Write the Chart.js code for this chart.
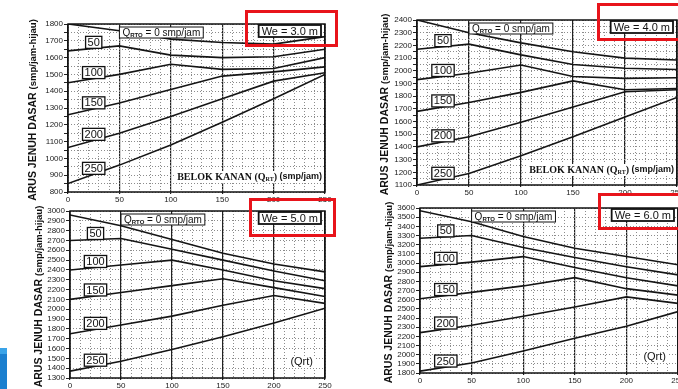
<!DOCTYPE html>
<html>
<head>
<meta charset="utf-8">
<script src="https://cdn.jsdelivr.net/npm/chart.js@4.4.1/dist/chart.umd.min.js"></script>
<style>
html, body { margin: 0; padding: 0; background: #fff; width: 678px; height: 389px; overflow: hidden; position: relative; }
.red { position: absolute; border: 3px solid #e8141b; box-sizing: border-box; }
#blue { position: absolute; left: 0; top: 348px; width: 7px; height: 41px; background: #1b7fcf; border-top: 6px solid #3aa3e8; box-sizing: border-box; }
</style>
</head>
<body>
<div id="blue"></div>
<script>
// Q_RT (belok kanan) pada sumbu x
const qrt = [0, 50, 100, 150, 200, 250];
// kurva: Q_RTO = 0, 50, 100, 150, 200, 250
const curveNames = ['0', '50', '100', '150', '200', '250'];
const weLabels = ['We = 3.0 m', 'We = 4.0 m', 'We = 5.0 m', 'We = 6.0 m'];
const yMin = [800, 1100, 1300, 1800];
const yMax = [1800, 2400, 3000, 3600];
const yStep = [50, 50, 100, 100];

const we30 = [
    [1800, 1760, 1710, 1690, 1680, 1725],
    [1640, 1670, 1615, 1600, 1605, 1650],
    [1450, 1500, 1560, 1530, 1535, 1600],
    [1260, 1330, 1410, 1490, 1515, 1545],
    [1065, 1150, 1250, 1355, 1460, 1510],
    [850, 960, 1080, 1215, 1355, 1500]
];
const we40 = [
    [2400, 2300, 2220, 2150, 2100, 2085],
    [2170, 2210, 2125, 2050, 2020, 2010],
    [1930, 1980, 2045, 1955, 1940, 1945],
    [1680, 1750, 1830, 1920, 1850, 1860],
    [1400, 1480, 1595, 1715, 1835, 1850],
    [1100, 1190, 1330, 1480, 1635, 1790]
];
const we50 = [
    [2960, 2850, 2710, 2570, 2460, 2380],
    [2700, 2720, 2610, 2500, 2390, 2290],
    [2400, 2450, 2500, 2400, 2290, 2210],
    [2100, 2170, 2240, 2310, 2220, 2130],
    [1750, 1840, 1930, 2040, 2140, 2060],
    [1370, 1470, 1590, 1720, 1860, 2010]
];
const we60 = [
    [3570, 3450, 3290, 3160, 3070, 2980],
    [3270, 3300, 3170, 3060, 2960, 2870],
    [2960, 3010, 3070, 2950, 2840, 2750],
    [2610, 2680, 2750, 2840, 2720, 2650],
    [2240, 2320, 2420, 2520, 2630, 2560],
    [1820, 1910, 2040, 2180, 2310, 2470]
];
const allSeries = [we30, we40, we50, we60];

// letak area plot tiap panel (px)
const areas = [
    { l: 68, r: 325, t: 24, b: 192, titleDx: 35 },
    { l: 417, r: 677, t: 20, b: 185, titleDx: 32 },
    { l: 70, r: 325, t: 211, b: 378, titleDx: 31 },
    { l: 420, r: 678, t: 208, b: 373, titleDx: 31 }
];
const redBoxes = [
    [245, 10, 93, 37], [597, 3, 85, 38], [249, 198, 87, 39], [598, 193, 84, 37]
];

const SANS = '"Liberation Sans", Arial, sans-serif';
const SERIF = '"Liberation Serif", "Times New Roman", serif';
const Y_W = 50, X_H = 16, PAD_T = 6, PAD_R = 12;
const LABEL_X = 25;

function drawRuns(ctx, runs, x, y, align) {
    let total = 0;
    runs.forEach(r => { ctx.font = r.f; r.w = ctx.measureText(r.t).width; total += r.w; });
    let cx = align === 'right' ? x - total : align === 'center' ? x - total / 2 : x;
    ctx.textAlign = 'left';
    runs.forEach(r => { ctx.font = r.f; ctx.fillText(r.t, cx, y + (r.dy || 0)); cx += r.w; });
    return total;
}

function runsWidth(ctx, runs) {
    return runs.reduce((s, r) => { ctx.font = r.f; return s + ctx.measureText(r.t).width; }, 0);
}

function makeDecor(i) {
    return {
        id: 'decor' + i,
        afterDraw(chart) {
            const { ctx, chartArea: a, scales: { x, y } } = chart;
            const series = allSeries[i];
            ctx.save();
            ctx.textBaseline = 'middle';

            // bingkai
            ctx.strokeStyle = '#111';
            ctx.lineWidth = 1.5;
            ctx.strokeRect(a.left, a.top, a.right - a.left, a.bottom - a.top);

            // label kurva dalam kotak
            ctx.font = '11px ' + SANS;
            series.forEach((s, k) => {
                if (k === 0) return;
                const v = s[0] + (s[1] - s[0]) * (LABEL_X - qrt[0]) / (qrt[1] - qrt[0]);
                const cx = x.getPixelForValue(LABEL_X), cy = y.getPixelForValue(v) - 6;
                const w = ctx.measureText(curveNames[k]).width + 4;
                ctx.fillStyle = '#fff';
                ctx.fillRect(cx - w / 2, cy - 6, w, 12);
                ctx.lineWidth = 1.3;
                ctx.strokeStyle = '#111';
                ctx.strokeRect(cx - w / 2, cy - 6, w, 12);
                ctx.fillStyle = '#111';
                ctx.textAlign = 'center';
                ctx.fillText(curveNames[k], cx, cy + 0.5);
            });

            // kotak Q_RTO = 0
            const qRuns = [
                { t: 'Q', f: '10px ' + SANS },
                { t: 'RTO', f: 'bold 6px ' + SANS, dy: 2 },
                { t: ' = 0 smp/jam', f: '10px ' + SANS }
            ];
            const qx = x.getPixelForValue(50), qy = a.top + 3;
            const qw = runsWidth(ctx, qRuns) + 6;
            ctx.fillStyle = '#fff';
            ctx.fillRect(qx, qy, qw, 11);
            ctx.lineWidth = 1;
            ctx.strokeRect(qx, qy, qw, 11);
            ctx.fillStyle = '#111';
            drawRuns(ctx, qRuns, qx + 3, qy + 6, 'left');

            // kotak We
            ctx.font = '11px ' + SANS;
            const ww = ctx.measureText(weLabels[i]).width + 6;
            const wx = a.right - 4 - ww, wy = a.top + 1;
            ctx.fillStyle = '#fff';
            ctx.fillRect(wx, wy, ww, 12);
            ctx.lineWidth = 1.8;
            ctx.strokeRect(wx, wy, ww, 12);
            ctx.fillStyle = '#111';
            ctx.textAlign = 'left';
            ctx.fillText(weLabels[i], wx + 3, wy + 6.5);

            // teks sumbu x di dalam plot
            let bRuns, bx, by;
            if (i < 2) {
                bRuns = [
                    { t: 'BELOK KANAN (Q', f: 'bold 10px ' + SERIF },
                    { t: 'RT', f: 'bold 6px ' + SERIF, dy: 2 },
                    { t: ')', f: 'bold 10px ' + SERIF },
                    { t: ' (smp/jam)', f: 'bold 9px ' + SANS }
                ];
                bx = a.right - 3; by = a.bottom - 15;
            } else {
                bRuns = [{ t: '(Qrt)', f: '11px ' + SANS }];
                bx = a.right - 12; by = a.bottom - 16;
            }
            const bw = runsWidth(ctx, bRuns);
            ctx.fillStyle = '#fff';
            ctx.fillRect(bx - bw - 2, by - 6, bw + 4, 12);
            ctx.fillStyle = '#111';
            drawRuns(ctx, bRuns, bx, by, 'right');

            // judul sumbu y
            ctx.save();
            ctx.translate(a.left - areas[i].titleDx, (a.top + a.bottom) / 2 + 2);
            ctx.rotate(-Math.PI / 2);
            ctx.fillStyle = '#111';
            drawRuns(ctx, [
                { t: 'ARUS JENUH DASAR ', f: 'bold 10.5px ' + SANS },
                { t: '(smp/jam-hijau)', f: 'bold 9.5px ' + SANS }
            ], 0, 0, 'center');
            ctx.restore();

            ctx.restore();
        }
    };
}

areas.forEach((a, i) => {
    const cv = document.createElement('canvas');
    const left = a.l - Y_W, top = a.t - PAD_T;
    cv.width = Math.round(a.r + PAD_R - left);
    cv.height = Math.round(a.b + X_H - top);
    cv.style.cssText = `position:absolute;left:${left}px;top:${top}px;`;
    document.body.appendChild(cv);

    new Chart(cv, {
        type: 'line',
        data: {
            datasets: allSeries[i].map((s, k) => ({
                label: 'Q_RTO ' + curveNames[k],
                data: qrt.map((q, j) => ({ x: q, y: s[j] })),
                borderColor: '#151515',
                borderWidth: 1.6,
                pointRadius: 0,
                tension: 0,
                fill: false
            }))
        },
        options: {
            responsive: false,
            animation: false,
            events: [],
            layout: { padding: { top: PAD_T, right: PAD_R, left: 0, bottom: 0 } },
            plugins: { legend: { display: false }, tooltip: { enabled: false } },
            scales: {
                x: {
                    type: 'linear', position: 'bottom', min: 0, max: 250,
                    ticks: { stepSize: 50, font: { size: 8, family: SANS }, color: '#222', padding: 1, maxRotation: 0, autoSkip: false },
                    grid: { color: '#222', lineWidth: 1.2, tickLength: 2, tickColor: '#222' },
                    border: { display: false },
                    afterFit: s => { s.height = X_H; }
                },
                xm: {
                    type: 'linear', position: 'bottom', min: 0, max: 250,
                    ticks: { display: false, stepSize: 10 },
                    grid: { color: '#8c8c8c', lineWidth: 1, drawTicks: false },
                    border: { display: false, dash: [1, 2] },
                    afterFit: s => { s.height = 0; }
                },
                y: {
                    min: yMin[i], max: yMax[i],
                    ticks: {
                        stepSize: yStep[i], autoSkip: false, padding: 1,
                        font: { size: 8, family: SANS }, color: '#222',
                        callback: v => (v % 100 === 0 ? v : '')
                    },
                    grid: { color: '#8c8c8c', lineWidth: 1, tickLength: 4, tickColor: '#222' },
                    border: { display: false, dash: [1, 2] },
                    afterFit: s => { s.width = Y_W; }
                }
            }
        },
        plugins: [makeDecor(i)]
    });
});

redBoxes.forEach(([l, t, w, h]) => {
    const d = document.createElement('div');
    d.className = 'red';
    d.style.cssText = `left:${l}px;top:${t}px;width:${w}px;height:${h}px;`;
    document.body.appendChild(d);
});
</script>
</body>
</html>
